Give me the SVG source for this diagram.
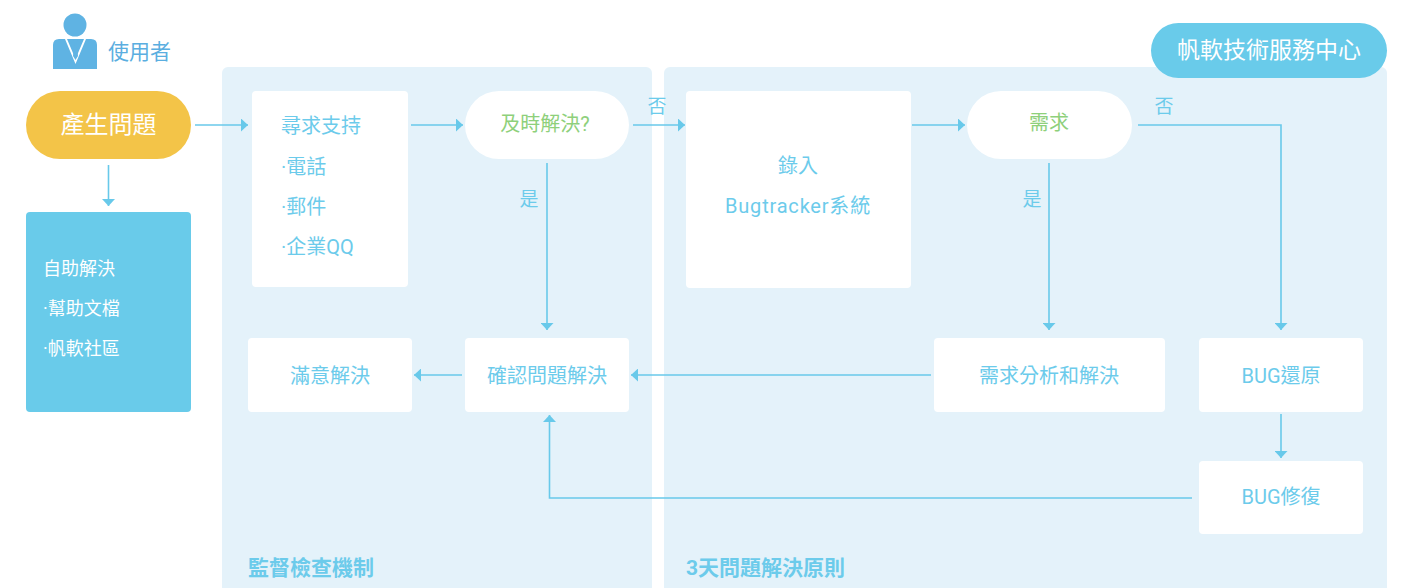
<svg xmlns="http://www.w3.org/2000/svg" width="1402" height="588" viewBox="0 0 1402 588">
<style>
text{font-family:"Roboto","Noto Sans CJK TC","Noto Sans CJK SC",sans-serif;dominant-baseline:central}
.panel{fill:#e4f2fa}
.box{fill:#ffffff}
.t{fill:#6ccbeb;font-size:20px}
.tc{fill:#6ccbeb;font-size:20px;text-anchor:middle}
.g{fill:#8ed07b;font-size:20px;text-anchor:middle}
.w{fill:#ffffff}
.lbl{fill:#6ccbeb;font-size:19px;text-anchor:middle}
.sec{fill:#6ccbeb;font-size:21px;font-weight:bold}
.ln{fill:none;stroke:#68c9ea;stroke-width:1.6;marker-end:url(#ah)}
</style>
<defs>
<marker id="ah" viewBox="0 0 7 13" refX="7" refY="6.5" markerWidth="7" markerHeight="13" markerUnits="userSpaceOnUse" orient="auto">
<path d="M0,0 L7,6.5 L0,13 Z" fill="#68c9ea"/>
</marker>
</defs>

<g id="panels">
<rect class="panel" x="222" y="67" width="430" height="540" rx="6"/>
<rect class="panel" x="664" y="67" width="723" height="540" rx="6"/>
</g>

<g id="user">
<circle cx="75" cy="25" r="11.5" fill="#5fb3e3"/>
<path d="M59,39 H91 Q97,39 97,45 V69 H53 V45 Q53,39 59,39 Z" fill="#5fb3e3"/>
<polygon points="65,39 75.5,64 86,39 84,39 75.5,59 67,39" fill="#ffffff"/>
<polygon points="73.5,40 77.5,40 76.5,44 78,56 75.5,60 73,56 74.5,44" fill="#5fb3e3"/>
<text x="108" y="52" style="fill:#5aaee0;font-size:21px">使用者</text>
</g>

<g id="badge">
<rect x="1151" y="23" width="236" height="55" rx="27.5" fill="#69cbea"/>
<text x="1269" y="50" class="w" style="font-size:23px;text-anchor:middle">帆軟技術服務中心</text>
</g>

<g id="n-problem">
<rect x="26" y="91" width="165" height="68" rx="34" fill="#f3c448"/>
<text x="108.5" y="125" class="w" style="font-size:24px;text-anchor:middle">產生問題</text>
</g>

<g id="n-self">
<rect x="26" y="212" width="165" height="200" rx="4" fill="#69cbea"/>
<text x="43" y="268" class="w" style="font-size:18px">自助解決</text>
<text x="43" y="308" class="w" style="font-size:18px">·幫助文檔</text>
<text x="43" y="348" class="w" style="font-size:18px">·帆軟社區</text>
</g>

<g id="n-support">
<rect class="box" x="252" y="91" width="156" height="196" rx="4"/>
<text class="t" x="281" y="126">尋求支持</text>
<text class="t" x="281" y="167">·電話</text>
<text class="t" x="281" y="207">·郵件</text>
<text class="t" x="281" y="247">·企業QQ</text>
</g>

<g id="n-timely">
<rect class="box" x="465" y="91" width="164" height="68" rx="34"/>
<text class="g" x="545" y="124">及時解決?</text>
</g>

<g id="n-bugtracker">
<rect class="box" x="686" y="91" width="225" height="197" rx="4"/>
<text class="tc" x="798" y="166">錄入</text>
<text class="tc" x="798" y="206" style="letter-spacing:0.8px">Bugtracker系統</text>
</g>

<g id="n-demand">
<rect class="box" x="967" y="91" width="165" height="68" rx="34"/>
<text class="g" x="1049" y="123">需求</text>
</g>

<g id="n-satisfied">
<rect class="box" x="248" y="338" width="164" height="74" rx="4"/>
<text class="tc" x="330" y="376">滿意解決</text>
</g>

<g id="n-confirm">
<rect class="box" x="465" y="338" width="164" height="74" rx="4"/>
<text class="tc" x="547" y="376">確認問題解決</text>
</g>

<g id="n-analysis">
<rect class="box" x="934" y="338" width="231" height="74" rx="4"/>
<text class="tc" x="1049" y="376">需求分析和解決</text>
</g>

<g id="n-bugrestore">
<rect class="box" x="1199" y="338" width="164" height="74" rx="4"/>
<text class="tc" x="1281" y="376">BUG還原</text>
</g>

<g id="n-bugfix">
<rect class="box" x="1199" y="461" width="164" height="73" rx="4"/>
<text class="tc" x="1281" y="497">BUG修復</text>
</g>

<g id="connectors">
<path class="ln" d="M108.5,165 V206"/>
<path class="ln" d="M195,125 H248"/>
<path class="ln" d="M411,125 H463"/>
<path class="ln" d="M633,125 H685"/>
<path class="ln" d="M547,163 V330"/>
<path class="ln" d="M912,125 H965"/>
<path class="ln" d="M1138,125 H1281 V330"/>
<path class="ln" d="M1049,163 V330"/>
<path class="ln" d="M931,375 H631"/>
<path class="ln" d="M462,375 H414"/>
<path class="ln" d="M1281,414 V458"/>
<path class="ln" d="M1192,498 H549.5 V415"/>
</g>

<g id="labels">
<text class="lbl" x="657" y="106">否</text>
<text class="lbl" x="529" y="199">是</text>
<text class="lbl" x="1164" y="106">否</text>
<text class="lbl" x="1032" y="199">是</text>
<text class="sec" x="248" y="568">監督檢查機制</text>
<text class="sec" x="686" y="568">3天問題解決原則</text>
</g>
</svg>
